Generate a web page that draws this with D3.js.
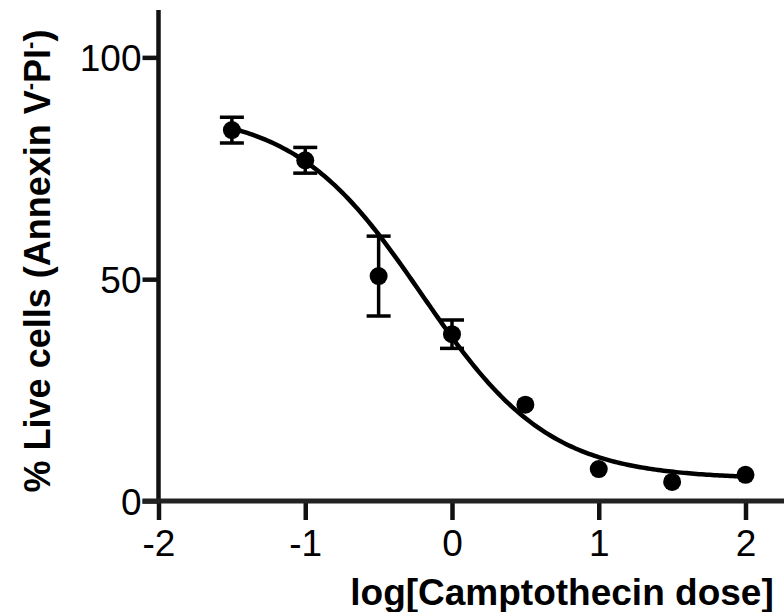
<!DOCTYPE html>
<html>
<head>
<meta charset="utf-8">
<script src="https://cdn.jsdelivr.net/npm/d3@7"></script>
<style>
  html, body { margin: 0; padding: 0; background: #fff; }
  svg { display: block; }
  text { font-family: "Liberation Sans", Arial, Helvetica, sans-serif; fill: #000; }
</style>
</head>
<body>
<svg id="chart" width="784" height="612"></svg>
<script>
// Camptothecin dose-response: mean % live cells (Annexin V- PI-) with SEM
const logDose = [-1.5, -1, -0.5, 0, 0.5, 1, 1.5, 2];
const liveMean = [83.6, 76.8, 50.7, 37.6, 21.7, 7.2, 4.3, 5.9];
const liveSEM = [2.9, 2.9, 9.0, 3.2, 1.2, 1.0, 0.9, 0.7];

// Four-parameter logistic fit (variable slope)
const fitBottom = 5;
const fitTop = 88;
const fitLogEC50 = -0.205;
const fitHill = 1.0;

const xTicks = [-2, -1, 0, 1, 2];
const yTicks = [0, 50, 100];

const svg = d3.select("#chart");

const x = d3.scaleLinear().domain([-2, 2]).range([158.5, 745.5]);
const y = d3.scaleLinear().domain([0, 110]).range([501, 13]);

const axisColor = "#111";

// y axis (ticks outward to the left)
const yAxis = d3.axisLeft(y).tickValues(yTicks).tickSize(16).tickPadding(1).tickFormat(d3.format("d"));
const gy = svg.append("g").attr("transform", `translate(${x(-2)},0)`).call(yAxis);
gy.select(".domain").remove();
gy.selectAll(".tick line").attr("stroke", axisColor).attr("stroke-width", 4.5);
gy.selectAll(".tick text")
  .attr("font-size", 37).attr("fill", "#000").attr("dy", "0.36em")
  .style("font-family", "'Liberation Sans', Arial, sans-serif");
gy.append("line")
  .attr("x1", 0).attr("x2", 0)
  .attr("y1", 10).attr("y2", y(0) + 2)
  .attr("stroke", axisColor).attr("stroke-width", 4.5);

// x axis (ticks outward downward), line runs to the right edge
const xAxis = d3.axisBottom(x).tickValues(xTicks).tickSize(19).tickPadding(10).tickFormat(d3.format("d"));
const gx = svg.append("g").attr("transform", `translate(0,${y(0)})`).call(xAxis);
gx.select(".domain").remove();
gx.selectAll(".tick line").attr("stroke", axisColor).attr("stroke-width", 4.5);
gx.selectAll(".tick text")
  .attr("font-size", 37).attr("fill", "#000")
  .text(d => d < 0 ? "-" + Math.abs(d) : String(d))
  .style("font-family", "'Liberation Sans', Arial, sans-serif");
gx.append("line")
  .attr("x1", x(-2) - 16).attr("x2", 784)
  .attr("y1", 0).attr("y2", 0)
  .attr("stroke", "#222").attr("stroke-width", 5);

// fitted curve
const fit = xv => fitBottom + (fitTop - fitBottom) / (1 + Math.pow(10, (xv - fitLogEC50) * fitHill));
const xs = d3.range(0, 201).map(i => logDose[0] + (logDose[logDose.length - 1] - logDose[0]) * i / 200);
svg.append("path")
  .datum(xs)
  .attr("fill", "none")
  .attr("stroke", "#000")
  .attr("stroke-width", 4.5)
  .attr("d", d3.line().x(d => x(d)).y(d => y(fit(d))));

// error bars (hidden when shorter than the symbol)
const r = 9;
const pts = logDose.map((d, i) => ({ x: d, m: liveMean[i], e: liveSEM[i] }));
const eb = svg.append("g").attr("stroke", "#000").attr("stroke-width", 3.5);
pts.filter(p => y(p.m) - y(p.m + p.e) > r).forEach(p => {
  const cx = x(p.x);
  eb.append("line").attr("x1", cx).attr("x2", cx).attr("y1", y(p.m - p.e)).attr("y2", y(p.m + p.e));
  eb.append("line").attr("x1", cx - 12).attr("x2", cx + 12).attr("y1", y(p.m + p.e)).attr("y2", y(p.m + p.e));
  eb.append("line").attr("x1", cx - 12).attr("x2", cx + 12).attr("y1", y(p.m - p.e)).attr("y2", y(p.m - p.e));
});

// mean symbols
svg.append("g").selectAll("circle")
  .data(pts)
  .join("circle")
  .attr("cx", d => x(d.x))
  .attr("cy", d => y(d.m))
  .attr("r", r)
  .attr("fill", "#000");

// axis titles
svg.append("text")
  .attr("x", 562).attr("y", 605)
  .attr("text-anchor", "middle")
  .attr("font-size", 37).attr("font-weight", "bold")
  .text("log[Camptothecin dose]");

const yt = svg.append("text")
  .attr("transform", "translate(50,261) rotate(-90)")
  .attr("text-anchor", "middle")
  .attr("font-size", 36).attr("font-weight", "bold");
yt.append("tspan").text("% Live cells (Annexin V");
yt.append("tspan").attr("font-size", 22).attr("dy", -13).text("-");
yt.append("tspan").attr("dy", 13).text("PI");
yt.append("tspan").attr("font-size", 22).attr("dy", -13).text("-");
yt.append("tspan").attr("dy", 13).text(")");
</script>
</body>
</html>
